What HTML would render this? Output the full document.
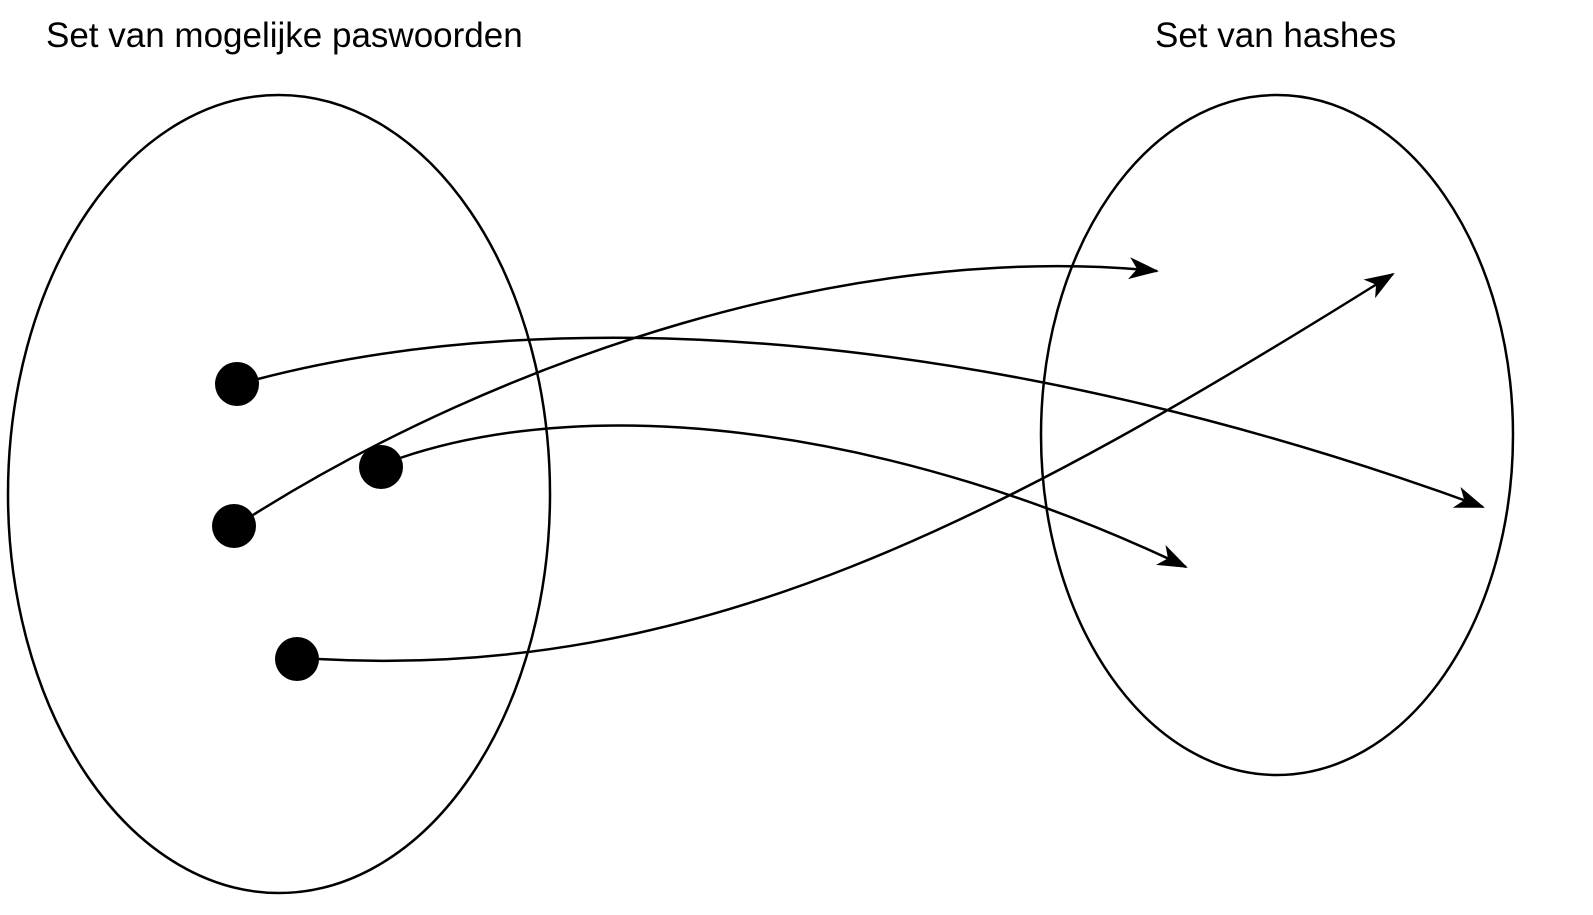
<!DOCTYPE html>
<html><head><meta charset="utf-8"><style>
html,body{margin:0;padding:0;background:#fff;}
svg{display:block}
</style></head><body>
<svg width="1593" height="915" viewBox="0 0 1593 915" xmlns="http://www.w3.org/2000/svg">
<defs>
<marker id="a" markerWidth="32" markerHeight="22" refX="28" refY="11" orient="auto" markerUnits="userSpaceOnUse">
<path d="M0,0 L30,11 L0,22 L8,11 Z" fill="#000"/>
</marker>
</defs>
<text x="46" y="47" font-family="Liberation Sans, sans-serif" font-size="35" fill="#000">Set van mogelijke paswoorden</text>
<text x="1155" y="47" font-family="Liberation Sans, sans-serif" font-size="35" fill="#000">Set van hashes</text>
<ellipse cx="279" cy="494" rx="271" ry="399" fill="none" stroke="#000" stroke-width="2.5"/>
<ellipse cx="1277" cy="435" rx="236" ry="340" fill="none" stroke="#000" stroke-width="2.5"/>
<g fill="none" stroke="#000" stroke-width="2.5">
<path d="M258,379 C560,300 1000,330 1483,507" marker-end="url(#a)"/>
<path d="M253,515 C500,360 850,240 1157,271" marker-end="url(#a)"/>
<path d="M400,458 C600,390 900,430 1186,567" marker-end="url(#a)"/>
<path d="M318,659 C700,680 1000,520 1393,274" marker-end="url(#a)"/>
</g>
<g fill="#000">
<circle cx="237" cy="384" r="22"/>
<circle cx="234" cy="526" r="22"/>
<circle cx="381" cy="467" r="22"/>
<circle cx="297" cy="659" r="22"/>
</g>
</svg>
</body></html>
